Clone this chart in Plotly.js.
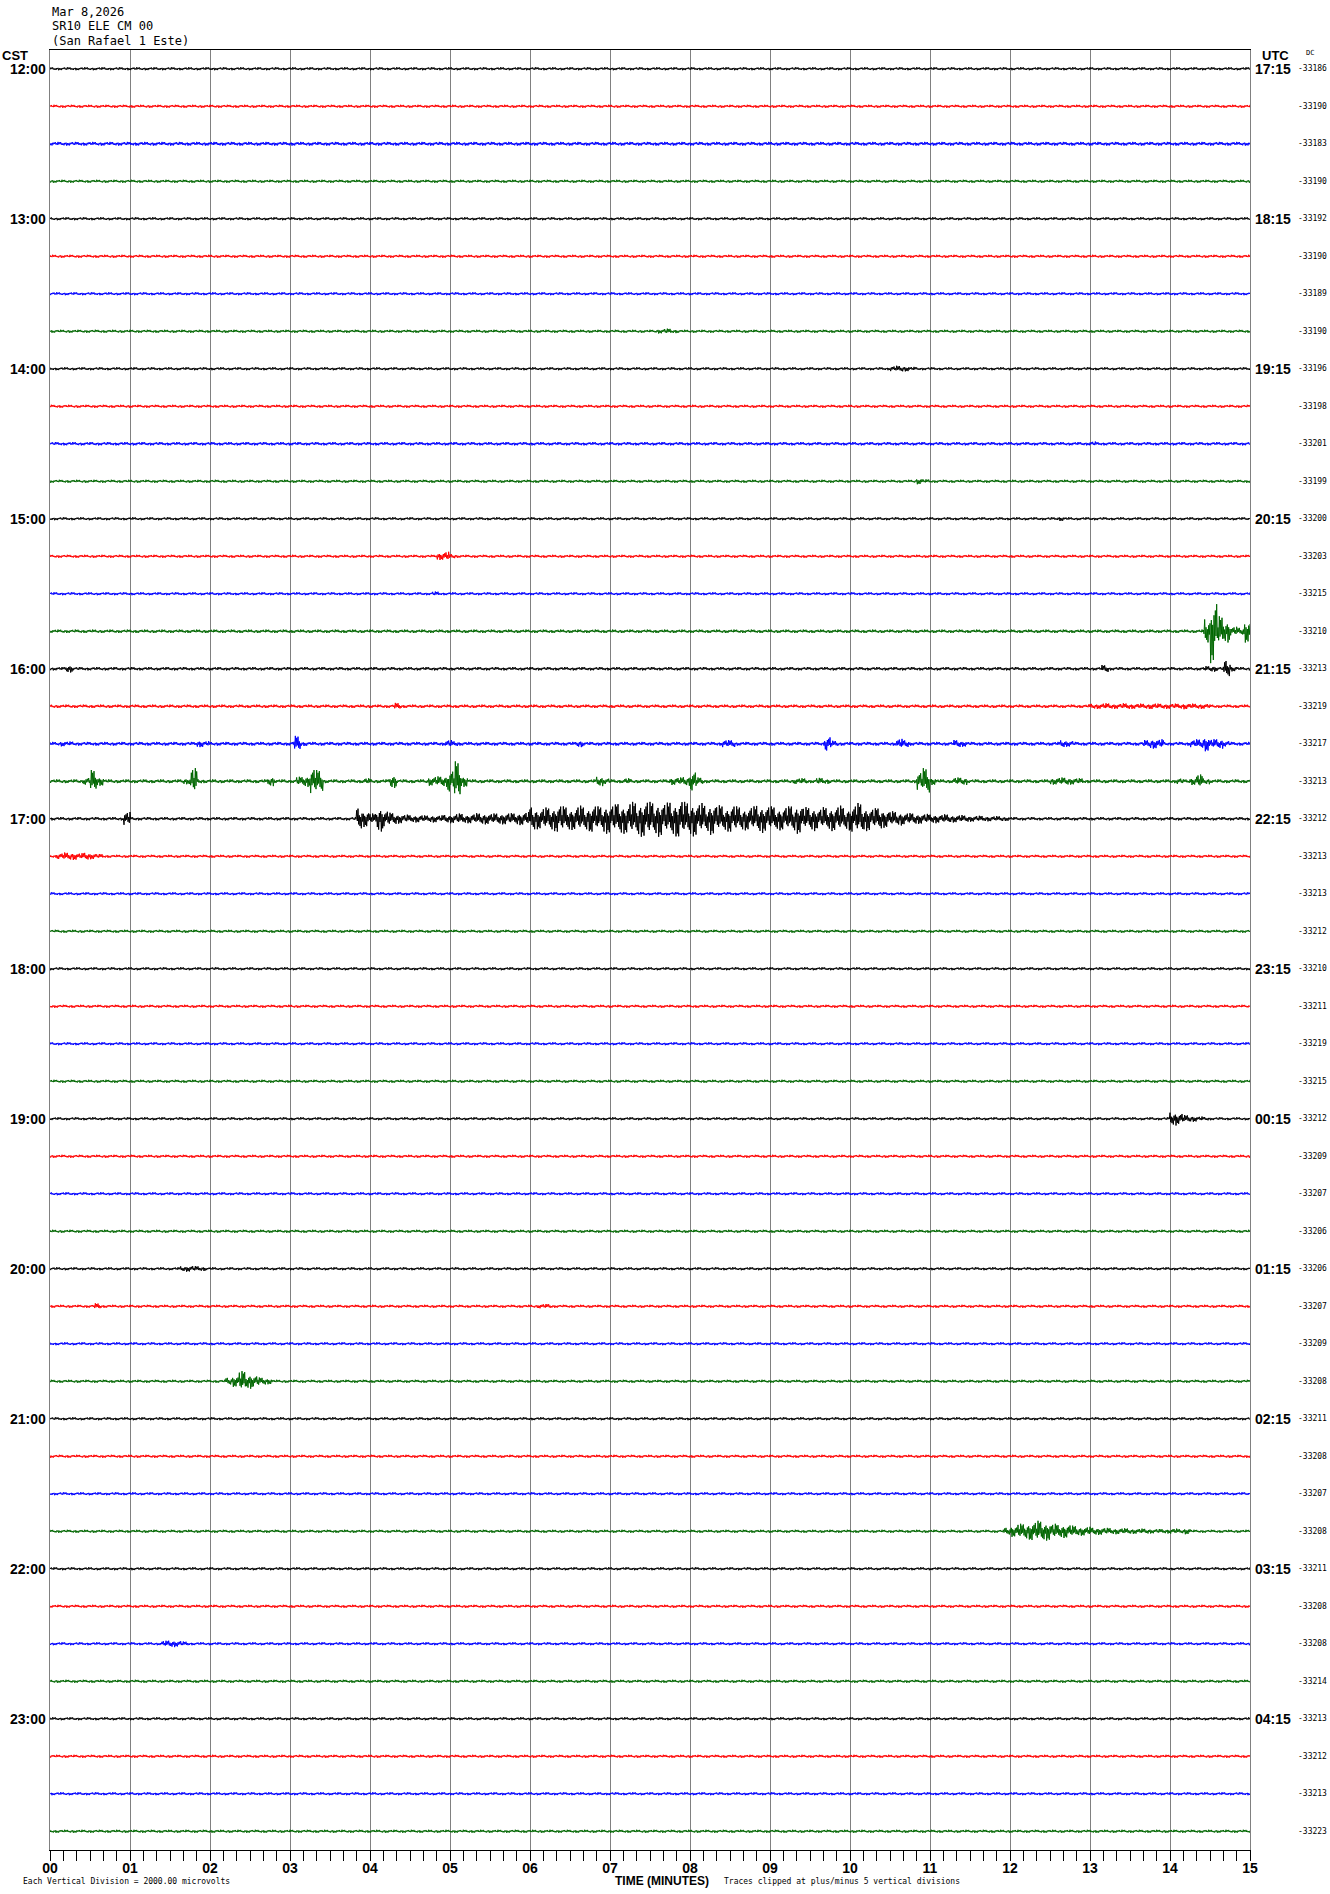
<!DOCTYPE html>
<html>
<head>
<meta charset="utf-8">
<script src="https://cdn.plot.ly/plotly-3.0.1.min.js"></script>
<style>
html,body{margin:0;padding:0;background:#fff;}
#chart{width:1330px;height:1894px;}
</style>
</head>
<body>
<div id="chart"></div>
<script>
// ---- DATA ----
const headerLines = ["Mar 8,2026", "SR10 ELE CM 00", "(San Rafael 1 Este)"];
const cstLabels = ["12:00","13:00","14:00","15:00","16:00","17:00","18:00","19:00","20:00","21:00","22:00","23:00"];
const utcLabels = ["17:15","18:15","19:15","20:15","21:15","22:15","23:15","00:15","01:15","02:15","03:15","04:15"];
const dcValues = [
  -33186,-33190,-33183,-33190,-33192,-33190,-33189,-33190,-33196,-33198,-33201,-33199,
  -33200,-33203,-33215,-33210,-33213,-33219,-33217,-33213,-33212,-33213,-33213,-33212,
  -33210,-33211,-33219,-33215,-33212,-33209,-33207,-33206,-33206,-33207,-33209,-33208,
  -33211,-33208,-33207,-33208,-33211,-33208,-33208,-33214,-33213,-33212,-33213,-33223
];
const minuteTicks = [0,1,2,3,4,5,6,7,8,9,10,11,12,13,14,15];
const minuteLabels = ["00","01","02","03","04","05","06","07","08","09","10","11","12","13","14","15"];
// background noise amplitude of each line (vertical divisions)
const noise = [
  0.040,0.040,0.050,0.040, 0.040,0.040,0.040,0.040, 0.040,0.040,0.045,0.040,
  0.040,0.040,0.040,0.045, 0.045,0.045,0.050,0.050, 0.045,0.040,0.040,0.040,
  0.040,0.040,0.040,0.040, 0.040,0.040,0.040,0.040, 0.040,0.040,0.040,0.040,
  0.040,0.040,0.040,0.040, 0.040,0.040,0.040,0.040, 0.040,0.040,0.040,0.040
];
// events: line index, start minute, envelope (divisions) sampled every 5 s
const evRow = [7,8,10,11,12,13,14,15,
  16,16,16,16,
  17,17,
  18,18,18,18,18,18,18,18,18,18,18,18,
  19,19,19,19,19,19,19,19,19,19,19,19,19,19,19,19,19,
  20,20,
  21,28,32,33,33,35,39,42];
const evStart = [7.6,10.5,13.0,10.83,12.6,4.83,4.78,14.42,
  0.2,13.15,14.42,14.67,
  4.3,13.0,
  0.12,1.83,3.05,4.95,6.58,8.4,9.68,10.58,11.3,12.62,13.67,14.25,
  0.42,1.67,2.72,3.08,3.92,4.25,4.72,6.83,7.17,7.75,9.3,9.58,10.83,11.3,12.5,14.08,14.25,
  0.92,3.83,
  0.08,14.0,1.62,0.55,6.1,2.2,11.92,1.4];
const evEnv = [
  [0.06,0.07,0.05],
  [0.07,0.08,0.07,0.05],
  [0.06],
  [0.08,0.05],
  [0.06],
  [0.10,0.12,0.06],
  [0.06],
  [0.35,0.85,0.40,0.30,0.12,0.10,0.30],
  [0.10],
  [0.10],
  [0.07,0.08,0.05],
  [0.23,0.07],
  [0.09],
  [0.07,0.07,0.08,0.07,0.07,0.08,0.07,0.07,0.07,0.08,0.07,0.07,0.07,0.07,0.08,0.07,0.07,0.07],
  [0.07,0.06],
  [0.09,0.07],
  [0.21,0.06],
  [0.10,0.07],
  [0.09],
  [0.10,0.10],
  [0.20,0.08],
  [0.13,0.10],
  [0.10,0.08],
  [0.10,0.08],
  [0.10,0.13,0.12],
  [0.10,0.12,0.20,0.12,0.13,0.08],
  [0.10,0.30,0.12],
  [0.08,0.35,0.06],
  [0.13],
  [0.12,0.15,0.35,0.30],
  [0.08],
  [0.18],
  [0.12,0.13,0.15,0.30,0.53,0.15],
  [0.13,0.08],
  [0.08],
  [0.10,0.10,0.12,0.27,0.10],
  [0.08,0.08],
  [0.09,0.07],
  [0.25,0.35,0.10],
  [0.10,0.10],
  [0.09,0.10,0.10,0.09,0.08],
  [0.08],
  [0.10,0.18,0.08],
  [0.18],
  [0.30,0.22,0.14,0.34,0.22,0.16,0.13,0.11,
   0.10,0.10,0.09,0.10,0.09,0.11,
   0.12,0.14,0.12,0.13,0.15,0.15,0.14,0.15,0.16,0.15,0.17,0.18,
   0.33,0.28,0.30,0.33,0.38,0.33,0.30,0.35,0.33,0.38,0.33,0.40,
   0.38,0.43,0.40,0.45,0.48,0.50,0.45,0.48,0.43,0.47,0.52,0.45,
   0.47,0.42,0.38,0.43,0.36,0.34,0.38,0.33,0.31,0.33,0.38,0.35,
   0.33,0.31,0.33,0.36,0.40,0.31,0.33,0.28,0.31,0.33,0.35,0.31,
   0.38,0.42,0.33,0.28,0.30,0.24,0.20,0.18,0.16,0.15,0.14,0.13,
   0.12,0.11,0.12,0.10,0.10,0.09,0.08,0.08,0.07,0.07,0.07,0.06],
  [0.08,0.10,0.10,0.08,0.10,0.08,0.06],
  [0.18,0.15,0.10,0.08,0.06,0.05],
  [0.07,0.08,0.07,0.06],
  [0.08],
  [0.06,0.06],
  [0.10,0.15,0.27,0.20,0.15,0.10,0.08],
  [0.10,0.15,0.20,0.22,0.26,0.28,0.25,0.20,0.18,0.18,0.15,0.12,0.12,0.10,0.10,0.09,0.08,0.08,0.08,0.07,0.07,0.07,0.06,0.06,0.06,0.07,0.06,0.08],
  [0.08,0.09,0.08,0.06]
];

// ---- STYLE ----
const lineColors = ["#000000","#ff0000","#0000ff","#006600"];
const texture = [1.0,0.35,0.75,0.2,0.9,0.5,0.3,0.65,0.15,0.85,0.45,0.25,0.6];
const nRows = dcValues.length;
const stepsPerMin = 120; // 0.5 s samples

const traces = [];
for (let r = 0; r < nRows; r++) {
  const xs = [], ys = [];
  const evs = [];
  for (let e = 0; e < evRow.length; e++) if (evRow[e] === r) evs.push(e);
  for (let k = 0; k <= 15 * stepsPerMin; k++) {
    const t = k / stepsPerMin;
    let a = noise[r];
    for (const e of evs) {
      const idx = Math.floor((t - evStart[e]) * 12 + 1e-9);
      if (idx >= 0 && idx < evEnv[e].length) a = Math.max(a, evEnv[e][idx]);
    }
    const s = (k % 2 === 0) ? 1 : -1;
    xs.push(t);
    ys.push(r + 0.5 - s * a * texture[(k + r * 7) % texture.length]);
  }
  traces.push({
    x: xs, y: ys, type: 'scatter', mode: 'lines',
    line: {color: lineColors[r % 4], width: 1, simplify: false},
    hoverinfo: 'skip', showlegend: false
  });
}

const mono = "DejaVu Sans Mono, monospace";
const sans = "Liberation Sans, Arial, sans-serif";
const H = 1800, W = 1200;
const ann = [];
headerLines.forEach((txt, i) => {
  ann.push({text: txt, xref: 'paper', yref: 'paper', x: 0, y: 1 + (38 - i * 14.5) / H,
    xanchor: 'left', yanchor: 'middle', showarrow: false,
    font: {family: mono, size: 12, color: '#000'}});
});
ann.push({text: '<b>CST</b>', xref: 'paper', yref: 'paper', x: -50 / W, y: 1 - 6 / H,
  xanchor: 'left', yanchor: 'middle', showarrow: false, font: {family: sans, size: 13, color: '#000'}});
ann.push({text: '<b>UTC</b>', xref: 'paper', yref: 'paper', x: 1 + 25 / W, y: 1 - 6 / H,
  xanchor: 'center', yanchor: 'middle', showarrow: false, font: {family: sans, size: 13, color: '#000'}});
ann.push({text: 'DC', xref: 'paper', yref: 'paper', x: 1 + 60 / W, y: 1 - 3 / H,
  xanchor: 'center', yanchor: 'middle', showarrow: false, font: {family: mono, size: 7, color: '#000'}});
for (let i = 0; i < cstLabels.length; i++) {
  const row = i * 4;
  ann.push({text: '<b>' + cstLabels[i] + '</b>', xref: 'paper', yref: 'y', x: 0, y: row + 0.5,
    xanchor: 'right', yanchor: 'middle', xshift: -2, showarrow: false,
    font: {family: sans, size: 14, color: '#000'}});
  ann.push({text: '<b>' + utcLabels[i] + '</b>', xref: 'paper', yref: 'y', x: 1, y: row + 0.5,
    xanchor: 'left', yanchor: 'middle', xshift: 3, showarrow: false,
    font: {family: sans, size: 14, color: '#000'}});
}
for (let r = 0; r < nRows; r++) {
  ann.push({text: String(dcValues[r]), xref: 'paper', yref: 'y', x: 1 + 46 / W, y: r + 0.5,
    xanchor: 'left', yanchor: 'middle', showarrow: false,
    font: {family: mono, size: 8, color: '#000'}});
}
ann.push({text: '<b>TIME (MINUTES)</b>', xref: 'paper', yref: 'paper', x: (662 - 50) / W, y: -31 / H,
  xanchor: 'center', yanchor: 'middle', showarrow: false, font: {family: sans, size: 12, color: '#000'}});
ann.push({text: 'Each Vertical Division = 2000.00 microvolts', xref: 'paper', yref: 'paper', x: (21 - 50) / W, y: -31 / H,
  xanchor: 'left', yanchor: 'middle', showarrow: false, font: {family: mono, size: 8, color: '#000'}});
ann.push({text: 'Traces clipped at plus/minus 5 vertical divisions', xref: 'paper', yref: 'paper', x: (722 - 50) / W, y: -31 / H,
  xanchor: 'left', yanchor: 'middle', showarrow: false, font: {family: mono, size: 8, color: '#000'}});

const layout = {
  width: 1330, height: 1894,
  margin: {l: 50, r: 80, t: 50, b: 44, pad: 0},
  paper_bgcolor: '#fff', plot_bgcolor: '#fff',
  showlegend: false,
  xaxis: {
    range: [0, 15], tickmode: 'array', tickvals: minuteTicks, ticktext: minuteLabels,
    ticks: 'outside', ticklen: 10, tickwidth: 1, tickcolor: '#000',
    ticklabelstandoff: -5,
    showgrid: true, gridcolor: '#808080', gridwidth: 1,
    showline: true, linecolor: '#000', linewidth: 1, mirror: true,
    zeroline: false,
    tickfont: {family: sans, size: 14, color: '#000', weight: 'bold'},
    minor: {tickmode: 'linear', tick0: 0, dtick: 1/6, ticks: 'outside', ticklen: 10, tickwidth: 1, tickcolor: '#000', showgrid: false}
  },
  yaxis: {
    range: [nRows, 0], showticklabels: false, ticks: '', showgrid: false, zeroline: false,
    showline: true, linecolor: '#808080', linewidth: 1, mirror: true
  },
  annotations: ann
};

Plotly.newPlot('chart', traces, layout, {staticPlot: true, displayModeBar: false});
</script>
</body>
</html>
